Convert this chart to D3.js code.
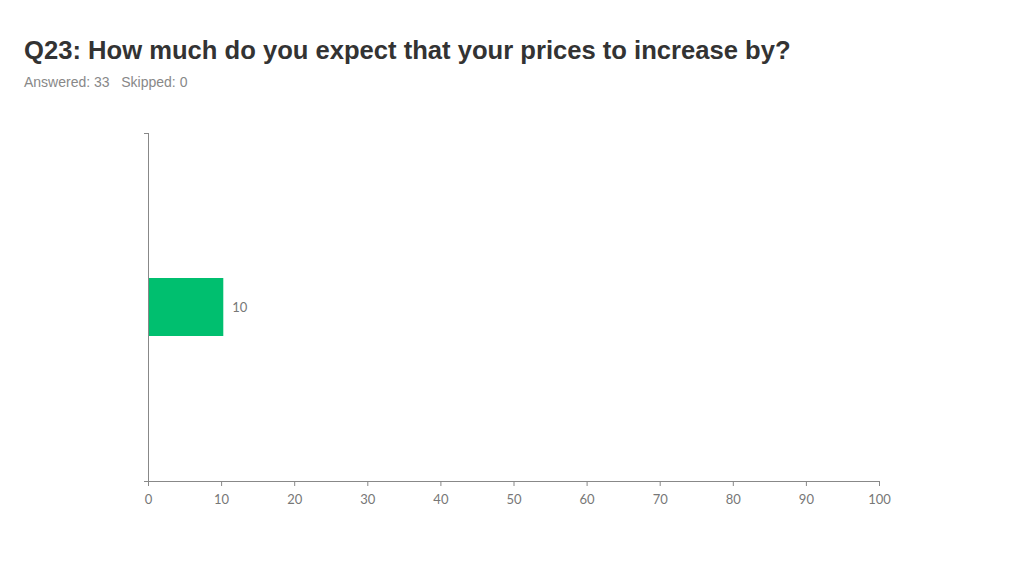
<!DOCTYPE html>
<html><head><meta charset="utf-8">
<script src="https://cdn.jsdelivr.net/npm/d3@7"></script>
<style>body{margin:0;background:#fff;}</style>
</head><body>
<svg id="chart" width="1024" height="576"></svg>
<script>
const categories = ["Price increase (%)"];
const values = [10.3];
const labels = ["10"];
const xTicks = [0,10,20,30,40,50,60,70,80,90,100];

const svg = d3.select("#chart");
svg.append("text").attr("x",24).attr("y",59).attr("font-family","Liberation Sans, Arial, sans-serif")
  .attr("font-weight","bold").attr("font-size",25.6).attr("fill","#333")
  .text("Q23: How much do you expect that your prices to increase by?");
svg.append("text").attr("x",24).attr("y",87).attr("font-family","Liberation Sans, Arial, sans-serif")
  .attr("font-size",14).attr("fill","#888").attr("xml:space","preserve")
  .text("Answered: 33   Skipped: 0");

const x = d3.scaleLinear().domain([0,100]).range([148,879]);
const y = d3.scaleBand().domain(categories).range([133,481]).paddingInner(5/7).paddingOuter(5/7);

const axisColor = "#888";
// x axis
const gx = svg.append("g").attr("transform","translate(0,481)")
  .call(d3.axisBottom(x).tickValues(xTicks).tickSize(5).tickSizeOuter(0));
gx.select(".domain").attr("stroke",axisColor).attr("d","M144,0.5H879");
gx.selectAll(".tick line").attr("stroke",axisColor);
gx.selectAll(".tick text").attr("fill","#777").attr("font-family","Lato, 'Open Sans', sans-serif")
  .attr("font-size",13).attr("dy","1.15em");

// y axis
const gy = svg.append("g").attr("transform","translate(148,0)");
gy.append("line").attr("x1",0.5).attr("x2",0.5).attr("y1",133).attr("y2",481).attr("stroke",axisColor);
gy.selectAll("line.t").data(y.range()).join("line").attr("class","t")
  .attr("x1",-4).attr("x2",0.5).attr("y1",d=>d+0.5).attr("y2",d=>d+0.5).attr("stroke",axisColor);

// bars
svg.selectAll("rect.bar").data(values).join("rect").attr("class","bar")
  .attr("x",x(0)+1).attr("y",(d,i)=>y(categories[i])).attr("width",d=>x(d)-x(0)-1)
  .attr("height",y.bandwidth()).attr("fill","#00BF6F");
svg.selectAll("text.lbl").data(values).join("text").attr("class","lbl")
  .attr("x",d=>x(d)+9).attr("y",(d,i)=>y(categories[i])+y.bandwidth()/2).attr("dy","0.35em")
  .attr("font-family","Lato, 'Open Sans', sans-serif").attr("font-size",13).attr("fill","#777")
  .text((d,i)=>labels[i]);
</script>
</body></html>
